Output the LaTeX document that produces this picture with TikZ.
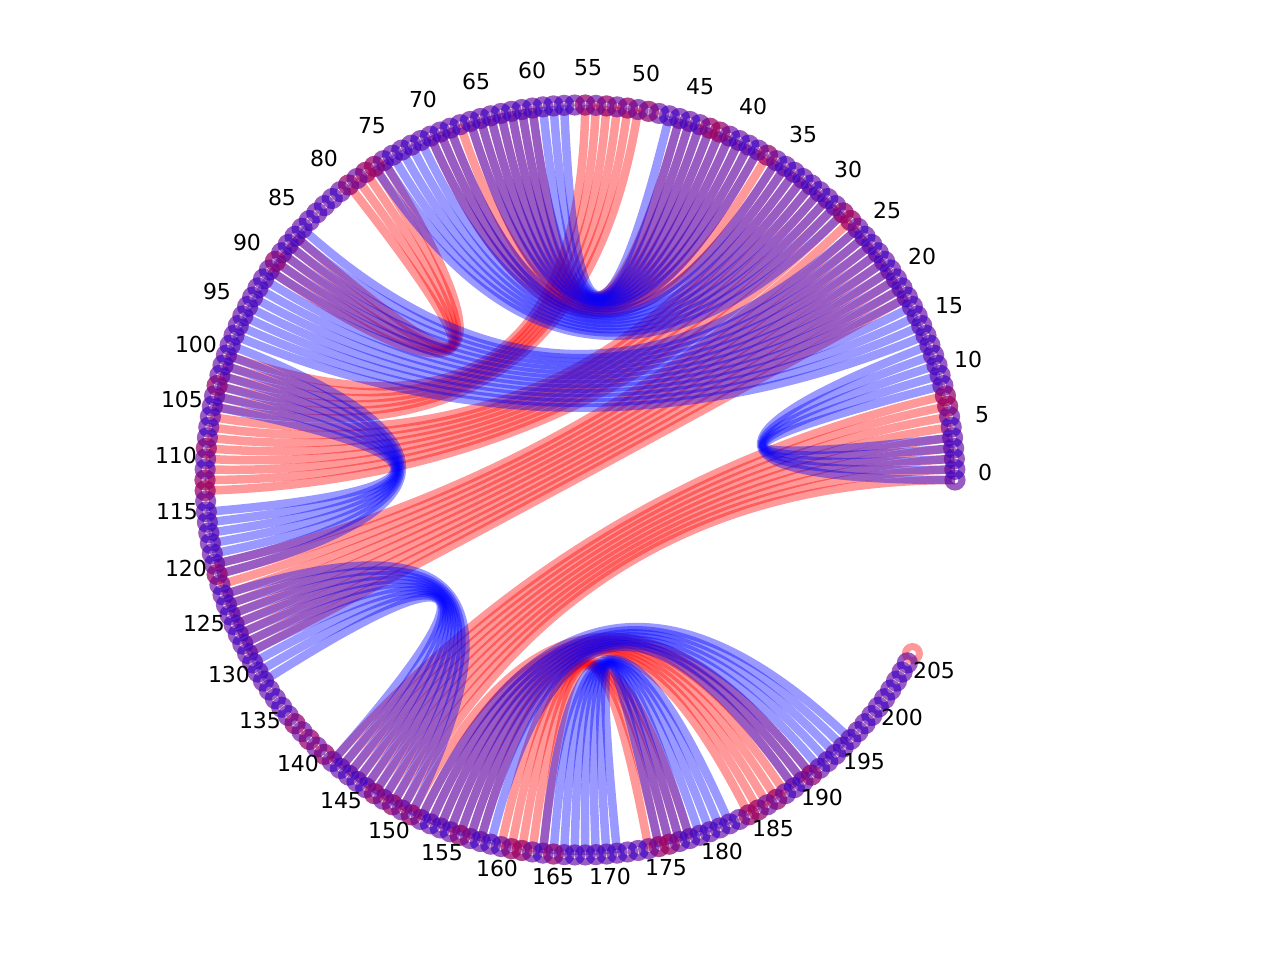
\documentclass[tikz,border=0pt]{standalone}
\usepackage{fontspec}
\setmainfont{DejaVu Sans}
\usetikzlibrary{calc}
\begin{document}
\begin{tikzpicture}[x=1pt,y=-1pt,
  redchord/.style={draw=red, opacity=0.4, line width=8.5pt},
  bluechord/.style={draw=blue, opacity=0.4, line width=8.5pt},
  redmark/.style={draw=red, opacity=0.4, line width=7pt},
  bluemark/.style={draw=blue, opacity=0.4, line width=7pt},
  redtint/.style={draw=red, opacity=0.25, line width=7pt},
  lab/.style={font=\fontsize{22}{26}\selectfont, inner sep=0pt, text=black}]
\useasboundingbox (0,0) rectangle (1280,960);
\coordinate (C) at (580,480);
\foreach \i in {0,...,205} {
  \coordinate (p\i) at ({580+375*cos(\i*1.6216216)},{480-375*sin(\i*1.6216216)});
}
% structure A (red)
\foreach \a/\b in {0/149,1/148,2/147,3/146,4/145,5/144,6/143,7/142,8/141,
  18/128,19/127,20/126,21/125,22/124,23/123,24/122,25/121,26/120,27/119,
  28/112,29/111,30/110,31/109,32/108,33/107,34/106,35/105,
  36/70,37/69,38/68,39/67,40/66,41/65,42/64,43/63,44/62,45/61,46/60,
  50/104,51/103,52/102,53/101,54/100,55/99,
  75/90,76/89,77/88,78/87,79/86,
  150/190,151/189,152/188,153/187,154/186,155/185,156/184,157/183,
  159/177,160/176,161/175,162/174,163/173} {
  \draw[redchord] (p\a) .. controls ($(p\a)!0.6667!(C)$) and ($(p\b)!0.6667!(C)$) .. (p\b);
}
% structure B (blue)
\foreach \a/\b in {0/13,1/12,2/11,3/10,4/9,
  14/97,15/96,16/95,17/94,18/93,19/92,20/91,21/90,22/89,23/88,24/87,25/86,26/85,
  28/76,29/75,30/74,31/73,32/72,33/71,34/70,35/69,36/68,
  38/66,39/65,40/64,41/63,42/62,43/61,44/60,45/59,46/58,47/57,
  98/120,99/119,100/118,101/117,102/116,103/115,104/114,
  122/150,123/149,124/148,125/147,126/146,127/145,128/144,129/143,130/142,131/141,
  151/195,152/194,153/193,154/192,155/191,156/190,157/189,158/188,
  163/181,164/180,165/179,166/178,167/177,168/176,169/175,170/174} {
  \draw[bluechord] (p\a) .. controls ($(p\a)!0.6667!(C)$) and ($(p\b)!0.6667!(C)$) .. (p\b);
}
% markers
\foreach \i in {0,...,205} { \draw[redmark] (p\i) circle[radius=7pt]; }
\foreach \i in {0,...,204} { \draw[bluemark] (p\i) circle[radius=7pt]; }
\foreach \i in {7,8,27,28,37,42,43,49,51,53,55,76,77,79,89,102,108,111,112,120,136,138,140,146,148,150,155,160,161,164,174,175,183,184,186,190} {
  \draw[redtint] (p\i) circle[radius=7pt];
}
% labels
\foreach \n/\x/\y in {0/985/472,5/982/415,10/968/359,15/949/306,20/922/256,25/887/210,
  30/848/169,35/803/134,40/753/106,45/700/87,50/646/73,55/588/68,60/532/70,65/476/81,
  70/423/99,75/372/126,80/324/158,85/282/197,90/247/242,95/217/291,100/196/344,
  105/182/399,110/176/455,115/177/512,120/186/568,125/204/623,130/229/674,135/260/720,
  140/298/763,145/341/801,150/389/830,155/442/853,160/497/868,165/553/876,170/610/876,
  175/666/868,180/722/851,185/773/828,190/822/797,195/864/761,200/902/717,205/934/670} {
  \node[lab] (t\n) at (\x,\y) {\n};
}
\end{tikzpicture}
\end{document}
